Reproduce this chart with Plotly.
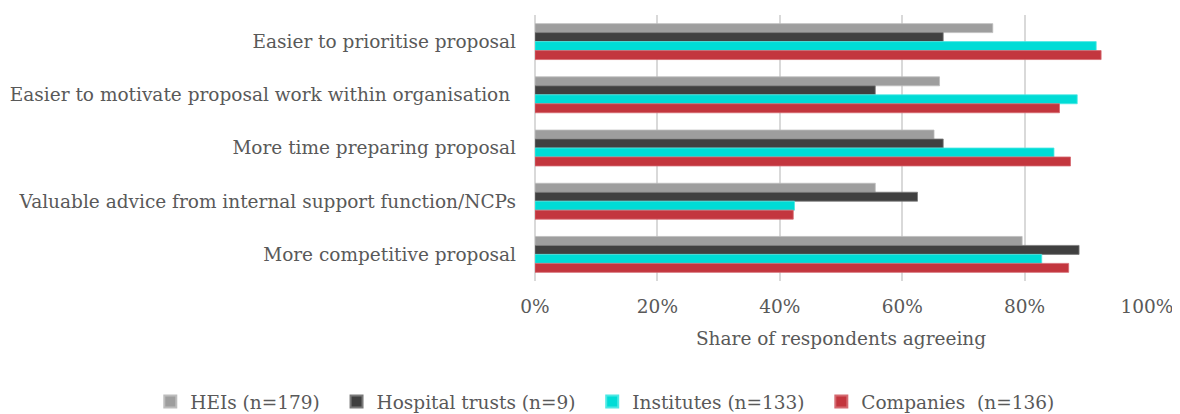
import plotly.graph_objects as go

categories = [
    "Easier to prioritise proposal",
    "Easier to motivate proposal work within organisation ",
    "More time preparing proposal",
    "Valuable advice from internal support function/NCPs",
    "More competitive proposal",
]
series_names = ["HEIs (n=179)", "Hospital trusts (n=9)", "Institutes (n=133)", "Companies\u00a0\u00a0(n=136)"]
heis = [0.748, 0.661, 0.652, 0.556, 0.796]
hospital = [0.667, 0.556, 0.667, 0.625, 0.889]
institutes = [0.917, 0.886, 0.848, 0.424, 0.828]
companies = [0.925, 0.857, 0.875, 0.422, 0.872]
tick_vals = [0, 0.2, 0.4, 0.6, 0.8, 1.0]
colors = ["#9e9e9e", "#404040", "#00dcd6", "#c3363e"]
border = ["#bdbdbd", "#7a7a7a", "#4de8e4", "#d56a71"]

FONT = "DejaVu Serif"
TXT = "#595959"
FS = 18.5
PAD = "\u00a0\u00a0"  # extra spacing between legend entries

fig = go.Figure()
for i, (name, vals, c, b) in enumerate(zip(series_names, [heis, hospital, institutes, companies], colors, border)):
    label = name + (PAD if i < len(series_names) - 1 else "")
    fig.add_trace(go.Bar(
        y=categories, x=vals, name=label, orientation="h",
        marker=dict(color=c, line=dict(color=b, width=0.8)),
    ))

# page body has an 8px default margin, so the figure is sized to fit inside it
fig.update_layout(
    barmode="group",
    bargap=0.325,
    bargroupgap=0,
    width=1172, height=406,
    margin=dict(l=527, r=33, t=7, b=133, autoexpand=False),
    plot_bgcolor="white", paper_bgcolor="white",
    font=dict(family=FONT, size=FS, color=TXT),
    showlegend=True,
    legend=dict(orientation="h", x=-0.6286, xanchor="left",
                y=-0.455, yanchor="middle",
                itemwidth=30, itemsizing="constant",
                font=dict(family=FONT, size=FS, color=TXT), traceorder="normal"),
    xaxis=dict(range=[0, 1], tickvals=tick_vals, tickformat=".0%",
               showgrid=True, gridcolor="#d9d9d9", gridwidth=1.5,
               zeroline=True, zerolinecolor="#d9d9d9", zerolinewidth=1.5,
               showline=False, ticks="", ticklabelstandoff=12, automargin=False,
               title=dict(text="Share of respondents agreeing", standoff=16,
                          font=dict(family=FONT, size=FS, color=TXT)),
               tickfont=dict(family=FONT, size=FS, color=TXT)),
    yaxis=dict(autorange="reversed", showgrid=False, ticks="", ticklabelstandoff=18,
               automargin=False,
               tickfont=dict(family=FONT, size=FS, color=TXT)),
)

fig.write_html("out.html")
